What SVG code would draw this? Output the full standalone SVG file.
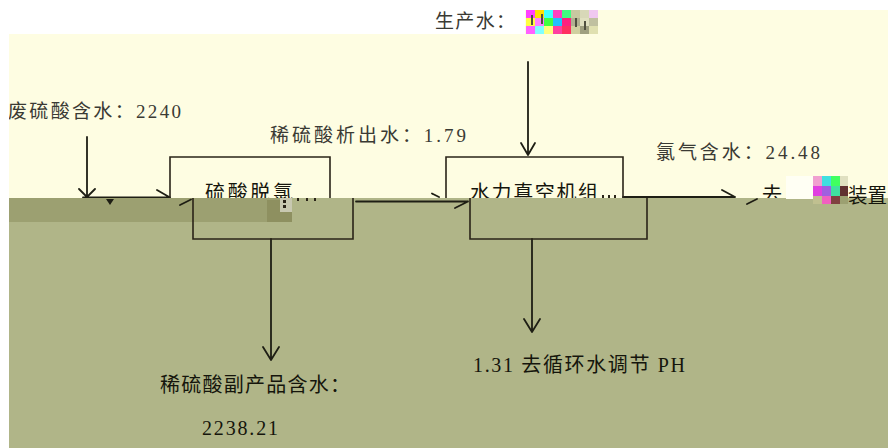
<svg xmlns="http://www.w3.org/2000/svg" width="888" height="448" viewBox="0 0 888 448">
<style>
.t{font-family:"Liberation Serif","Noto Sans CJK SC",serif;font-size:19px;fill:#3a3a34}
.tb{font-family:"Liberation Serif","Noto Sans CJK SC",serif;font-size:20px;fill:#15150c}
.ln{fill:none;stroke:#1e1e14;stroke-width:1.8;stroke-linecap:round;stroke-linejoin:round}
.box{fill:none;stroke:#2a2418;stroke-width:1.6}
</style>
<defs>
<clipPath id="upper"><rect x="0" y="0" width="888" height="198"/></clipPath>
</defs>
<g id="background">
<rect x="0" y="0" width="888" height="448" fill="#ffffff"/>
<rect x="9" y="34" width="879" height="164" fill="#fefde2"/>
<rect x="525" y="10" width="363" height="24" fill="#fefde2"/>
<rect x="9" y="198" width="879" height="250" fill="#b0b588"/>
<rect x="9" y="198" width="283" height="24" fill="#9ca071"/>
</g>
<g id="connectors">
<g id="c-input">
<path class="ln" d="M87,137 V197 M79,189 L87,197 L95,189 M83,197.5 H170 M157,190 L170,197.5" clip-path="url(#upper)"/>
<path class="ln" d="M180,205 L191,199.5"/>
<path d="M106,199 L114,199 L110,205 Z" fill="#1e1e14"/>
</g>
<g id="c-box1-box2">
<path class="ln" d="M432,193.5 L439,197" clip-path="url(#upper)"/>
<path class="ln" d="M356,201.5 H468 M455,208 L468,201.5"/>
</g>
<g id="c-box2-out">
<path class="ln" d="M623,197 H735 M722,190 L735,197" clip-path="url(#upper)"/>
<path class="ln" d="M747,204 L757,199"/>
</g>
<g id="c-water-in">
<path class="ln" d="M528,62 V155 M521,143 L528,155 L535,143"/>
</g>
<g id="c-box1-down">
<path class="ln" d="M271,239 V360 M263,347 L271,360 L279,347"/>
</g>
<g id="c-box2-down">
<path class="ln" d="M532,239 V332 M524,319 L532,332 L540,319"/>
</g>
</g>
<g id="node-acid-feed">
<text class="t" x="8" y="118" textLength="173" lengthAdjust="spacing">废硫酸含水：2240</text>
<rect x="0" y="90" width="9" height="40" fill="#ffffff"/>
</g>
<g id="node-dilute-out">
<text class="t" x="270" y="142" textLength="196" lengthAdjust="spacing">稀硫酸析出水：1.79</text>
</g>
<g id="node-production-water">
<text class="t" x="435" y="28" textLength="80" lengthAdjust="spacing">生产水：</text>
<g id="noise-1">
<rect x="526" y="10" width="9" height="8" fill="#ff40ff"/><rect x="535" y="10" width="9" height="8" fill="#ffe000"/><rect x="544" y="10" width="9" height="8" fill="#40ffff"/><rect x="553" y="10" width="9" height="8" fill="#ff40c0"/><rect x="562" y="10" width="9" height="8" fill="#40ff80"/><rect x="571" y="10" width="9" height="8" fill="#c8c8a0"/><rect x="580" y="10" width="9" height="8" fill="#d8d8b8"/><rect x="589" y="10" width="9" height="8" fill="#f0c8f0"/>
<rect x="526" y="18" width="9" height="8" fill="#ffff40"/><rect x="535" y="18" width="9" height="8" fill="#ff80ff"/><rect x="544" y="18" width="9" height="8" fill="#40ff40"/><rect x="553" y="18" width="9" height="8" fill="#20c0ff"/><rect x="562" y="18" width="9" height="8" fill="#ff2080"/><rect x="571" y="18" width="9" height="8" fill="#b0b090"/><rect x="580" y="18" width="9" height="8" fill="#e0e0c0"/><rect x="589" y="18" width="9" height="8" fill="#c0c0a0"/>
<rect x="526" y="26" width="9" height="8" fill="#ff60ff"/><rect x="535" y="26" width="9" height="8" fill="#80ffff"/><rect x="544" y="26" width="9" height="8" fill="#ffff80"/><rect x="553" y="26" width="9" height="8" fill="#ff40a0"/><rect x="562" y="26" width="9" height="8" fill="#ff3060"/><rect x="571" y="26" width="9" height="8" fill="#d0d0a0"/><rect x="580" y="26" width="9" height="8" fill="#a0a080"/><rect x="589" y="26" width="9" height="8" fill="#e0e0b0"/>
<rect x="531" y="15" width="2" height="10" fill="#505040"/><rect x="541" y="14" width="2" height="10" fill="#505040"/><rect x="575" y="18" width="2" height="9" fill="#505040"/><rect x="584" y="21" width="2" height="9" fill="#505040"/>
</g>
</g>
<g id="node-chlorine-gas">
<text class="t" x="656" y="159" textLength="164" lengthAdjust="spacing">氯气含水：24.48</text>
</g>
<g id="node-dechlorination">
<path class="box" d="M170,198 V157 H330 V198"/>
<text class="tb" x="205" y="200" textLength="88" lengthAdjust="spacing" clip-path="url(#upper)">硫酸脱氯</text>
<path class="box" d="M193,198 V239 H353 V198"/>
<rect x="267" y="200" width="25" height="22" fill="#8e9060"/>
<rect x="280" y="198" width="12" height="14" fill="#c8c8b0"/>
<rect x="283" y="200" width="3" height="3" fill="#2a2418"/><rect x="283" y="205" width="3" height="3" fill="#2a2418"/>
<rect x="297" y="198" width="2" height="3" fill="#2a2418"/><rect x="306" y="198" width="2" height="3" fill="#2a2418"/><rect x="314" y="198" width="2" height="3" fill="#2a2418"/>
</g>
<g id="node-vacuum">
<path class="box" d="M446,198 V157 H623 V198"/>
<text class="tb" x="470" y="200" textLength="128" lengthAdjust="spacing" clip-path="url(#upper)">水力真空机组</text>
<path class="box" d="M470,198 V239 H647 V198"/>
<rect x="602" y="195" width="2" height="3" fill="#2a2418"/><rect x="608" y="195" width="2" height="3" fill="#2a2418"/><rect x="614" y="195" width="2" height="3" fill="#2a2418"/>
</g>
<g id="node-dechlor-device">
<text class="tb" x="762" y="202" clip-path="url(#upper)">去</text>
<rect x="786" y="176" width="27" height="23" fill="#fffff4"/>
<rect x="813" y="176" width="9" height="10" fill="#f0a0d0"/><rect x="822" y="176" width="9" height="10" fill="#40e0e0"/><rect x="831" y="176" width="9" height="10" fill="#40ff60"/><rect x="840" y="176" width="8" height="10" fill="#e0e0c0"/>
<rect x="813" y="186" width="9" height="10" fill="#e040e0"/><rect x="822" y="186" width="9" height="10" fill="#a060e0"/><rect x="831" y="186" width="9" height="10" fill="#40e0a0"/><rect x="840" y="186" width="8" height="10" fill="#603030"/>
<rect x="813" y="196" width="9" height="8" fill="#c0c090"/><rect x="822" y="196" width="9" height="8" fill="#f060c0"/><rect x="831" y="196" width="9" height="8" fill="#804040"/><rect x="840" y="196" width="8" height="8" fill="#9ca071"/>
<text class="tb" x="848" y="203" textLength="39" lengthAdjust="spacingAndGlyphs">装置</text>
</g>
<g id="node-dilute-product">
<text class="tb" x="160" y="392" textLength="190" lengthAdjust="spacing">稀硫酸副产品含水：</text>
<text class="tb" x="202" y="435" textLength="76" lengthAdjust="spacing">2238.21</text>
</g>
<g id="node-recycle">
<text class="tb" x="473" y="372" textLength="212" lengthAdjust="spacing">1.31 去循环水调节 PH</text>
</g>
</svg>
